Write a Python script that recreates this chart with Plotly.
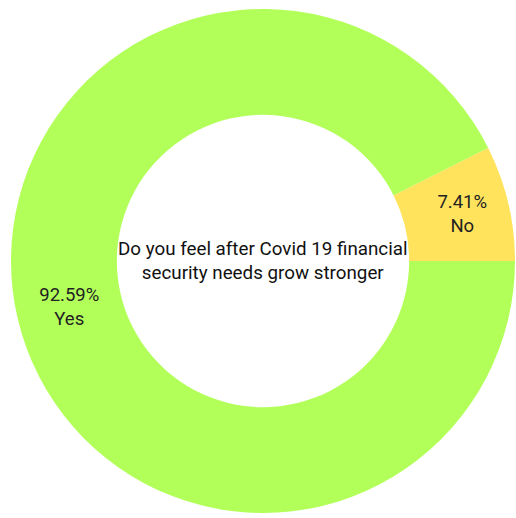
import plotly.graph_objects as go

# Survey answers (counts of respondents)
labels = ["Yes", "No"]
counts = [25, 2]
colors = ["#b2ff59", "#ffe35c"]
question = "Do you feel after Covid 19 financial<br>security needs grow stronger"

fig = go.Figure(
    go.Pie(
        labels=labels,
        values=counts,
        hole=0.58,
        sort=False,
        direction="clockwise",
        rotation=90,
        marker=dict(colors=colors, line=dict(width=0)),
        texttemplate="%{percent:.2%}<br>%{label}",
        textposition="inside",
        insidetextorientation="horizontal",
        textfont=dict(family="Roboto", size=18.5, color="#222222"),
        showlegend=False,
        hoverinfo="label+percent",
    )
)

fig.add_annotation(
    text=question,
    x=0.5, y=0.5, xref="paper", yref="paper",
    showarrow=False,
    font=dict(family="Roboto", size=18.8, color="#111111"),
)

fig.update_layout(
    width=516,
    height=518,
    margin=dict(l=11, r=1, t=9, b=5),
    paper_bgcolor="white",
    plot_bgcolor="white",
)

fig.write_html("out.html")
